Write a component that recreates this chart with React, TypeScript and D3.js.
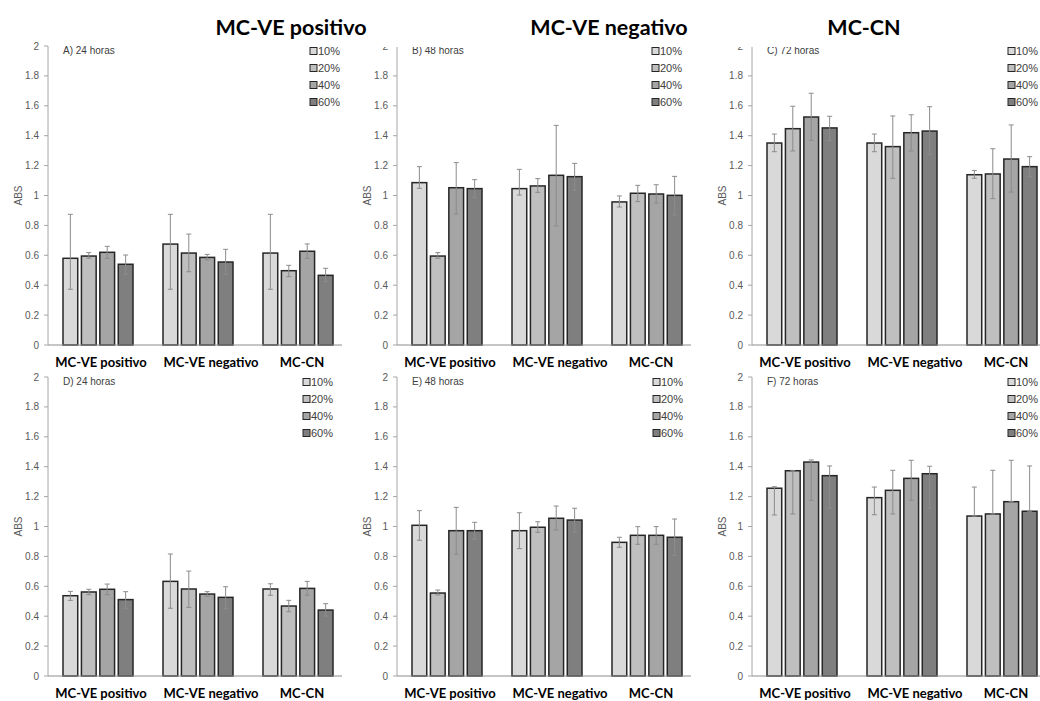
import React from 'react';
import * as d3 from 'd3';

const CATEGORIES = ['MC-VE positivo', 'MC-VE negativo', 'MC-CN'];
const SERIES = ['10%', '20%', '40%', '60%'];
const SERIES_FILL = ['#d9d9d9', '#bfbfbf', '#a5a5a5', '#7f7f7f'];
const PANEL_LABELS = ['A) 24 horas', 'B) 48 horas', 'C) 72 horas', 'D) 24 horas', 'E) 48 horas', 'F) 72 horas'];
const TITLES = ['MC-VE positivo', 'MC-VE negativo', 'MC-CN'];

// bar heights, one row per category, one column per series
const valsA = [[0.58, 0.595, 0.62, 0.54], [0.675, 0.615, 0.586, 0.555], [0.615, 0.497, 0.627, 0.466]];
const hiA = [[0.874, 0.618, 0.66, 0.602], [0.874, 0.742, 0.606, 0.64], [0.874, 0.533, 0.676, 0.513]];
const loA = [[0.373, 0.58, 0.58, 0.475], [0.373, 0.49, 0.569, 0.473], [0.373, 0.457, 0.58, 0.424]];

const valsB = [[1.086, 0.595, 1.052, 1.046], [1.046, 1.064, 1.135, 1.126], [0.957, 1.015, 1.01, 1.001]];
const hiB = [[1.193, 0.618, 1.22, 1.106], [1.175, 1.113, 1.469, 1.215], [0.997, 1.068, 1.072, 1.128]];
const loB = [[1.048, 0.58, 0.876, 0.985], [1.003, 1.021, 0.796, 1.035], [0.923, 0.959, 0.95, 0.87]];

const valsC = [[1.351, 1.447, 1.525, 1.452], [1.351, 1.327, 1.42, 1.431], [1.139, 1.144, 1.244, 1.193]];
const hiC = [[1.411, 1.597, 1.684, 1.53], [1.411, 1.532, 1.54, 1.594], [1.168, 1.313, 1.472, 1.26]];
const loC = [[1.293, 1.298, 1.369, 1.367], [1.293, 1.115, 1.298, 1.273], [1.115, 0.979, 1.023, 1.126]];

const valsD = [[0.537, 0.562, 0.58, 0.511], [0.633, 0.582, 0.548, 0.526], [0.582, 0.468, 0.586, 0.441]];
const hiD = [[0.566, 0.58, 0.615, 0.564], [0.816, 0.702, 0.564, 0.597], [0.617, 0.506, 0.633, 0.484]];
const loD = [[0.506, 0.544, 0.544, 0.453], [0.453, 0.459, 0.533, 0.45], [0.54, 0.43, 0.54, 0.401]];

const valsE = [[1.008, 0.555, 0.972, 0.972], [0.972, 0.995, 1.055, 1.043], [0.894, 0.941, 0.941, 0.928]];
const hiE = [[1.106, 0.575, 1.128, 1.028], [1.092, 1.032, 1.137, 1.122], [0.928, 0.999, 0.999, 1.05]];
const loE = [[0.908, 0.542, 0.814, 0.916], [0.852, 0.961, 0.977, 0.961], [0.861, 0.881, 0.881, 0.805]];

const valsF = [[1.256, 1.373, 1.431, 1.34], [1.193, 1.242, 1.322, 1.353], [1.07, 1.084, 1.166, 1.102]];
const hiF = [[1.266, 1.373, 1.445, 1.405], [1.264, 1.376, 1.443, 1.403], [1.264, 1.376, 1.443, 1.405]];
const loF = [[1.077, 1.084, 1.175, 1.122], [1.079, 1.084, 1.175, 1.122], [1.07, 1.084, 1.166, 1.102]];

const PANEL_DATA = [
  { vals: valsA, hi: hiA, lo: loA },
  { vals: valsB, hi: hiB, lo: loB },
  { vals: valsC, hi: hiC, lo: loC },
  { vals: valsD, hi: hiD, lo: loD },
  { vals: valsE, hi: hiE, lo: loE },
  { vals: valsF, hi: hiF, lo: loF },
];

const W = 1040;
const H = 701;
const COL_X = [48, 397, 752];
const ROW_Y = [345, 676];
const LABEL_DY = [22, 21.5];
const PLOT_H = 299;
const PLOT_W = 300;
const LEGEND_DX = [262, 255, 256, 255, 256, 256];
const LABEL_SHIFT = [3, 13, 4];
const TITLE_X = [291, 609, 864];

function Panel({ idx }: { idx: number }) {
  const row = Math.floor(idx / 3);
  const x0 = COL_X[idx % 3];
  const y0 = ROW_Y[row];
  const { vals, hi, lo } = PANEL_DATA[idx];

  const y = d3.scaleLinear().domain([0, 2]).range([y0, y0 - PLOT_H]);
  const xCat = d3.scaleBand<string>()
    .domain(CATEGORIES)
    .range([x0, x0 + PLOT_W])
    .paddingInner(0.3)
    .paddingOuter(0.15);
  const xSer = d3.scaleBand<string>()
    .domain(SERIES)
    .range([0, xCat.bandwidth()])
    .paddingInner(0.2)
    .paddingOuter(0);

  const ticks = y.ticks(10);
  const fmt = (d: number) => String(+d.toFixed(1));

  return (
    <g>
      {/* y axis */}
      <line x1={x0} x2={x0} y1={y(0)} y2={y(2)} stroke="#a6a6a6" strokeWidth={1} />
      {ticks.map(t => (
        <g key={t}>
          <line x1={x0 - 4} x2={x0} y1={y(t)} y2={y(t)} stroke="#a6a6a6" strokeWidth={1} />
          <text x={x0 - 9} y={y(t)} dy="0.35em" textAnchor="end" fontSize={10}
            fontFamily="Liberation Sans, Arial, sans-serif" fill="#595959">{fmt(t)}</text>
        </g>
      ))}
      <text transform={`translate(${x0 - 30},${y(1)}) rotate(-90)`} textAnchor="middle" dy="0.35em"
        fontSize={10} fontFamily="Liberation Sans, Arial, sans-serif" fill="#595959">ABS</text>

      {/* bars */}
      {CATEGORIES.map((c, ci) => SERIES.map((s, si) => {
        const bx = (xCat(c) ?? 0) + (xSer(s) ?? 0);
        const v = vals[ci][si];
        return (
          <rect key={c + s} x={bx} y={y(v)} width={xSer.bandwidth()} height={y(0) - y(v)}
            fill={SERIES_FILL[si]} stroke="#262626" strokeWidth={1.5} />
        );
      }))}

      {/* error bars */}
      {CATEGORIES.map((c, ci) => SERIES.map((s, si) => {
        const cx = (xCat(c) ?? 0) + (xSer(s) ?? 0) + xSer.bandwidth() / 2;
        const yt = y(hi[ci][si]);
        const yb = y(lo[ci][si]);
        return (
          <g key={'e' + c + s} stroke="#8c8c8c" strokeWidth={1}>
            <line x1={cx} x2={cx} y1={yt} y2={yb} />
            <line x1={cx - 2.5} x2={cx + 2.5} y1={yt} y2={yt} />
            <line x1={cx - 2.5} x2={cx + 2.5} y1={yb} y2={yb} />
          </g>
        );
      }))}

      {/* baseline */}
      <line x1={x0} x2={x0 + PLOT_W - 6} y1={y(0)} y2={y(0)} stroke="#8c8c8c" strokeWidth={1} />

      {/* category labels */}
      {CATEGORIES.map((c, ci) => (
        <text key={c} x={(xCat(c) ?? 0) + xCat.bandwidth() / 2 + LABEL_SHIFT[ci]} y={y0 + LABEL_DY[row]}
          textAnchor="middle" fontSize={13} fontWeight={700}
          fontFamily="Lato, 'Open Sans', sans-serif" fill="#000">{c}</text>
      ))}

      {/* panel label */}
      <text x={x0 + 15} y={y(2) + 8} fontSize={10} fontFamily="Liberation Sans, Arial, sans-serif"
        fill="#404040">{PANEL_LABELS[idx]}</text>

      {/* legend */}
      {SERIES.map((s, si) => {
        const ly = y(2) + 5 + si * 17;
        const lx = x0 + LEGEND_DX[idx];
        return (
          <g key={'l' + s}>
            <rect x={lx} y={ly - 3.5} width={7} height={7} fill={SERIES_FILL[si]} stroke="#262626" strokeWidth={1} />
            <text x={lx + 8} y={ly} dy="0.35em" fontSize={11}
              fontFamily="Liberation Sans, Arial, sans-serif" fill="#404040">{s}</text>
          </g>
        );
      })}
    </g>
  );
}

export default function App() {
  return (
    <div style={{ position: 'absolute', left: 0, top: 0 }}>
      <svg width={W} height={H} style={{ display: 'block', background: '#fff' }}>
        <rect width={W} height={H} fill="#fff" />
        {[0, 1, 2, 3, 4, 5].map(i => <Panel key={i} idx={i} />)}
        {/* title band covers the top edge of the upper charts */}
        <rect x={207} y={0} width={793} height={47} fill="#fff" />
        {TITLES.map((t, i) => (
          <text key={t} x={TITLE_X[i]} y={35} textAnchor="middle" fontSize={21.5} fontWeight={700}
            fontFamily="Lato, 'Open Sans', sans-serif" fill="#000">{t}</text>
        ))}
      </svg>
    </div>
  );
}
